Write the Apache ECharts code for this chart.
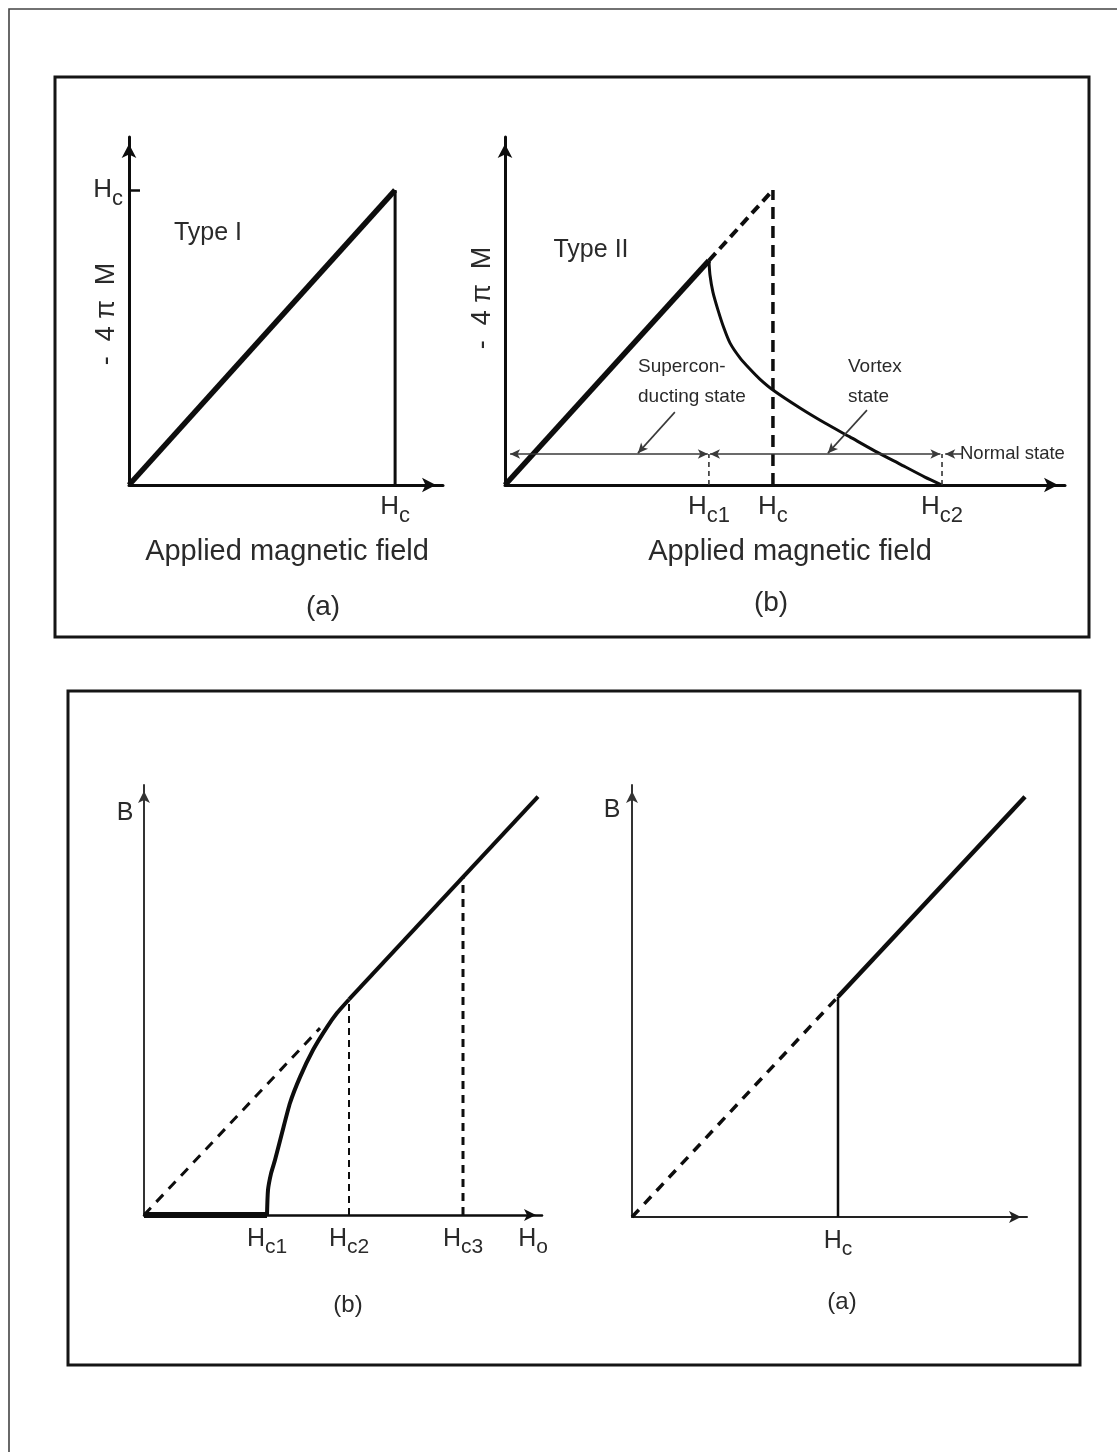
<!DOCTYPE html>
<html>
<head>
<meta charset="utf-8">
<script src="https://cdn.jsdelivr.net/npm/echarts@6/dist/echarts.min.js"></script>
<style>
  html, body { margin: 0; padding: 0; background: #fff; }
  #chart { width: 1117px; height: 1452px; }
</style>
</head>
<body>
<div id="chart"></div>
<script>
// ---- Type I superconductor: -4πM against applied field ----
const typeIHc = 1.0;
const typeIAxisMax = 1.18;

// ---- Type II superconductor: -4πM against applied field ----
const typeIIHc1 = 0.761;
const typeIIHc = 1.0;
const typeIIHc2 = 1.631;
const typeIIAxisMaxX = 2.09;
const typeIIAxisMaxY = 1.18;
// mixed (vortex) state branch between Hc1 and Hc2
const vortexField = [0.761, 0.765, 0.776, 0.795, 0.817, 0.840, 0.877, 0.914, 0.951, 1.000, 1.101, 1.194, 1.287, 1.381, 1.474, 1.567, 1.631];
const vortexMagnet = [0.761, 0.712, 0.654, 0.593, 0.532, 0.481, 0.431, 0.393, 0.359, 0.322, 0.261, 0.210, 0.163, 0.115, 0.071, 0.027, 0.0];
const stateBarLevel = 0.105;
const stateBarStart = 0.019;
const xTicksTypeII = [0.761, 1.0, 1.631];
const xSubsTypeII = ['c1', 'c', 'c2'];

// ---- B against H, type II (three critical fields) ----
const bIIHc1 = 1.23;
const bIIHc2 = 2.05;
const bIIHc3 = 3.19;
const bIIEnd = 3.94;
const bIIAxisMaxX = 3.98;
const bIIAxisMaxY = 4.05;
const bIIRiseField = [1.23, 1.24, 1.27, 1.31, 1.38, 1.46, 1.56, 1.69, 1.83, 1.93, 2.05];
const bIIRiseB = [0.0, 0.235, 0.39, 0.518, 0.772, 1.055, 1.299, 1.554, 1.770, 1.902, 2.03];
const bIIDashedEnd = 1.76;
const xTicksBII = [1.23, 2.05, 3.19, 3.89];
const xSubsBII = ['c1', 'c2', 'c3', 'o'];

// ---- B against H, type I ----
const bIHc = 2.06;
const bIEnd = 3.93;
const bIAxisMaxX = 3.95;
const bIAxisMaxY = 4.04;

const FONT = '"Liberation Sans", Arial, Helvetica, sans-serif';
const INK = '#0d0d0d';
const TEXT = '#2a2a2a';

function pair(xs, ys) { return xs.map((x, i) => [x, ys[i]]); }
function subFormatter(ticks, subs) {
  return function (v) {
    let i = ticks.findIndex(t => Math.abs(t - v) < 1e-6);
    if (i < 0) i = 0;
    return '{h|H}{s|' + subs[i] + '}';
  };
}
function subRich(h, s, drop) {
  return {
    h: { fontSize: h, fontFamily: FONT, color: TEXT },
    s: { fontSize: s, fontFamily: FONT, color: TEXT, padding: [drop, 0, 0, 0] }
  };
}
function axisLine(color, width, arrow) {
  return {
    show: true, onZero: false,
    symbol: ['none', 'arrow'],
    symbolSize: arrow,
    symbolOffset: [0, -arrow[1] / 2],
    lineStyle: { color: color, width: width }
  };
}
function plainAxis(gridIndex, max, line) {
  return {
    gridIndex: gridIndex, type: 'value', min: 0, max: max,
    axisLine: line, axisTick: { show: false }, splitLine: { show: false },
    axisLabel: { show: false }
  };
}
function seg(name, gi, data, width, type, extra) {
  return Object.assign({
    name: name, type: 'line', xAxisIndex: gi, yAxisIndex: gi,
    data: data, symbol: 'none', showSymbol: false, silent: true,
    lineStyle: { color: INK, width: width, type: type || 'solid', cap: 'butt', join: 'round' },
    z: 3
  }, extra || {});
}

const chart = echarts.init(document.getElementById('chart'), null, { renderer: 'canvas' });

const grids = [
  { left: 129, top: 137, width: 314, height: 348 },
  { left: 505, top: 137, width: 560, height: 348 },
  { left: 144, top: 785, width: 398, height: 430 },
  { left: 632, top: 785, width: 395, height: 432 }
].map(g => Object.assign({ containLabel: false, outerBoundsMode: 'none', show: false }, g));

const xAxes = [
  (function () {
    const a = plainAxis(0, typeIAxisMax, axisLine(INK, 3, [11, 14]));
    a.axisLabel = { show: true, customValues: [typeIHc], formatter: () => '{h|H}{s|c}',
      rich: subRich(26, 22, 18), margin: 2 };
    return a;
  })(),
  (function () {
    const a = plainAxis(1, typeIIAxisMaxX, axisLine(INK, 3, [11, 14]));
    a.axisLabel = { show: true, customValues: xTicksTypeII, formatter: subFormatter(xTicksTypeII, xSubsTypeII),
      rich: subRich(26, 22, 18), margin: 2 };
    return a;
  })(),
  (function () {
    const a = plainAxis(2, bIIAxisMaxX, axisLine(INK, 2.5, [9, 12]));
    a.axisLabel = { show: true, customValues: xTicksBII, formatter: subFormatter(xTicksBII, xSubsBII),
      rich: subRich(25, 21, 16), margin: 6 };
    return a;
  })(),
  (function () {
    const a = plainAxis(3, bIAxisMaxX, axisLine('#222', 2, [9, 12]));
    a.axisLabel = { show: true, customValues: [bIHc], formatter: () => '{h|H}{s|c}',
      rich: subRich(25, 21, 16), margin: 6 };
    return a;
  })()
];

const yAxes = [
  (function () {
    const a = plainAxis(0, typeIAxisMax, axisLine(INK, 3, [11, 14]));
    a.axisTick = { show: true, inside: true, length: 11, customValues: [typeIHc], lineStyle: { color: INK, width: 2.5 } };
    a.axisLabel = { show: true, customValues: [typeIHc], formatter: () => '{h|H}{s|c}',
      rich: subRich(26, 22, 18), margin: 6 };
    return a;
  })(),
  plainAxis(1, typeIIAxisMaxY, axisLine(INK, 3, [11, 14])),
  plainAxis(2, bIIAxisMaxY, axisLine('#333', 2, [9, 12])),
  plainAxis(3, bIAxisMaxY, axisLine('#333', 2, [9, 12]))
];

const thin = { color: '#3a3a3a', width: 1.6, type: 'solid' };
const markLineBase = {
  silent: true, animation: false,
  symbol: ['arrow', 'arrow'], symbolSize: [7, 10],
  label: { show: false },
  lineStyle: thin,
  emphasis: { disabled: true }
};

const series = [
  // Type I
  seg('typeI-rise', 0, [[0, 0], [typeIHc, typeIHc]], 5.5),
  seg('typeI-drop', 0, [[typeIHc, typeIHc], [typeIHc, 0]], 3),

  // Type II magnetisation
  seg('meissner', 1, [[0, 0], [typeIIHc1, typeIIHc1]], 5.5),
  seg('vortex', 1, pair(vortexField, vortexMagnet), 3, 'solid', { smooth: 0.2 }),
  seg('extension', 1, [[typeIIHc1, typeIIHc1], [typeIIHc, typeIIHc]], 4, [10, 6]),
  seg('hc-line', 1, [[typeIIHc, 0], [typeIIHc, typeIIHc]], 3.5, [12, 7]),
  seg('hc1-mark', 1, [[typeIIHc1, 0], [typeIIHc1, stateBarLevel]], 1.6, [5, 4], { lineStyle: { color: '#333', width: 1.6, type: [5, 4] } }),
  seg('hc2-mark', 1, [[typeIIHc2, 0], [typeIIHc2, stateBarLevel]], 1.6, [5, 4], {
    lineStyle: { color: '#333', width: 1.6, type: [5, 4] },
    markLine: Object.assign({}, markLineBase, {
      data: [
        [{ coord: [stateBarStart, stateBarLevel] }, { coord: [typeIIHc1 - 0.004, stateBarLevel] }],
        [{ coord: [typeIIHc1 + 0.004, stateBarLevel] }, { coord: [typeIIHc2 - 0.006, stateBarLevel] }],
        [{ coord: [typeIIHc2 + 0.075, stateBarLevel], symbol: 'none' }, { coord: [typeIIHc2 + 0.012, stateBarLevel] }],
        [{ coord: [0.634, 0.247], symbol: 'none' }, { coord: [0.496, 0.108] }],
        [{ coord: [1.351, 0.254], symbol: 'none' }, { coord: [1.205, 0.108] }]
      ]
    })
  }),

  // B-H, type II
  seg('bII-flat', 2, [[0, 0], [bIIHc1, 0]], 6),
  seg('bII-rise', 2, pair(bIIRiseField, bIIRiseB), 4, 'solid', { smooth: 0.2 }),
  seg('bII-normal', 2, [[bIIHc2, bIIRiseB[bIIRiseB.length - 1]], [bIIEnd, bIIEnd]], 4),
  seg('bII-dashed', 2, [[0, 0], [bIIDashedEnd, bIIDashedEnd]], 3, [10, 8]),
  seg('bII-hc2', 2, [[bIIHc2, 0], [bIIHc2, bIIRiseB[bIIRiseB.length - 1]]], 2, [7, 5]),
  seg('bII-hc3', 2, [[bIIHc3, 0], [bIIHc3, 3.18]], 3, [8, 6]),

  // B-H, type I
  seg('bI-dashed', 3, [[0, 0], [bIHc, bIHc]], 3.5, [10, 8]),
  seg('bI-jump', 3, [[bIHc, 0], [bIHc, bIHc]], 2.5),
  seg('bI-normal', 3, [[bIHc, bIHc], [bIEnd, bIEnd]], 4.5)
];

function txt(text, x, y, size, extra) {
  return Object.assign({
    type: 'text', x: x, y: y, silent: true,
    style: { text: text, fontSize: size, fontFamily: FONT, fill: TEXT, align: 'center', verticalAlign: 'middle' }
  }, extra || {});
}
function txtLeft(text, x, y, size) {
  const t = txt(text, x, y, size);
  t.style.align = 'left';
  return t;
}

const graphic = [
  { type: 'rect', silent: true, shape: { x: 9, y: 9, width: 1300, height: 1600 },
    style: { fill: 'none', stroke: '#444', lineWidth: 1.6 } },
  { type: 'rect', silent: true, shape: { x: 55, y: 77, width: 1034, height: 560 },
    style: { fill: 'none', stroke: '#151515', lineWidth: 3 } },
  { type: 'rect', silent: true, shape: { x: 68, y: 691, width: 1012, height: 674 },
    style: { fill: 'none', stroke: '#151515', lineWidth: 3 } },

  txt('Type I', 208, 233, 25),
  txt('-  4 \u03c0  M', 107, 314, 27, { rotation: Math.PI / 2 }),
  txt('Applied magnetic field', 287, 552, 29),
  txt('(a)', 323, 607, 28),

  txt('Type II', 591, 250, 25),
  txt('-  4 \u03c0  M', 483, 298, 27, { rotation: Math.PI / 2 }),
  txtLeft('Supercon-', 638, 367, 19),
  txtLeft('ducting state', 638, 397, 19),
  txtLeft('Vortex', 848, 367, 19),
  txtLeft('state', 848, 397, 19),
  txtLeft('Normal state', 960, 454, 18.5),
  txt('Applied magnetic field', 790, 552, 29),
  txt('(b)', 771, 603, 28),

  txt('B', 125, 813, 25),
  txt('(b)', 348, 1305, 24),
  txt('B', 612, 810, 25),
  txt('(a)', 842, 1302, 24)
];

chart.setOption({
  animation: false,
  backgroundColor: '#ffffff',
  grid: grids,
  xAxis: xAxes,
  yAxis: yAxes,
  series: series,
  graphic: graphic
});
</script>
</body>
</html>
